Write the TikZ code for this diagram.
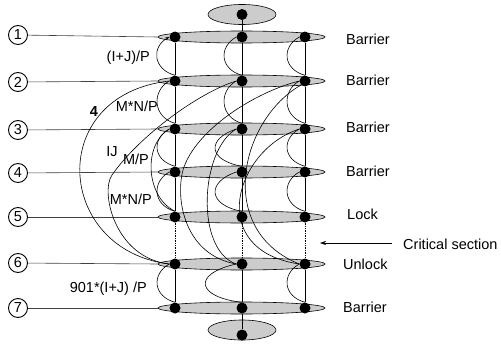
\documentclass[tikz,border=0pt]{standalone}
\usepackage{fontspec}
\setmainfont{Liberation Sans}
\usetikzlibrary{shapes.geometric,arrows.meta}
\begin{document}
\begin{tikzpicture}[x=1pt,y=-1pt,
  lbl/.style={font=\fontsize{14.5}{16}\selectfont, inner sep=0pt},
  num/.style={circle,draw,line width=0.9pt,minimum size=19pt,inner sep=0pt,font=\fontsize{14.5}{16}\selectfont},
  band/.style={ellipse,draw,line width=0.6pt,fill=gray!40,minimum width=167pt,minimum height=12pt,inner sep=0pt},
  capell/.style={ellipse,draw,line width=0.6pt,fill=gray!40,minimum width=68pt,minimum height=20pt,inner sep=0pt},
  dot/.style={circle,fill=black,minimum size=11pt,inner sep=0pt},
  lead/.style={line width=0.6pt, black!75},
  vline/.style={line width=0.7pt},
  crv/.style={line width=0.6pt},
]
\useasboundingbox (0,0) rectangle (501,348);

% bands and dots
\node[capell] (top) at (242,14.5) {};
\node[dot] (bt) at (242,14.5) {};
\foreach \r/\y in {1/37,2/81,3/129,4/172,5/217,6/264,7/308} {
  \node[band] (e\r) at (241.5,\y) {};
  \node[dot] (a\r) at (175,\y) {};
  \node[dot] (b\r) at (242,\y) {};
  \node[dot] (c\r) at (305,\y) {};
}
\node[capell] (bot) at (242,330) {};
\node[dot] (bb) at (242,335) {};

% numbered circles and leaders
\foreach \r/\y in {1/35,2/82,3/130,4/173,5/217,6/263,7/308} {
  \node[num] (n\r) at (18,\y) {\r};
  \draw[lead] (n\r) -- (e\r.west);
}

% vertical lines
\foreach \c in {a,b,c} {
  \draw[vline] (\c1) -- (\c2) -- (\c3) -- (\c4) -- (\c5);
  \draw[vline,densely dotted] (\c5) -- (\c6);
  \draw[vline] (\c6) -- (\c7);
}
\draw[vline] (bt) -- (b1);
\draw[vline] (b7) -- (bb);

% local arcs
\draw[crv,{Stealth[length=4pt,width=3pt]}-] (a1.west) .. controls +(-18,10) and +(-22,-6) .. (a2.north);
\foreach \p/\q in {2/3,3/4,4/5,6/7} {
  \draw[crv] (a\p.west) .. controls +(-18,10) and +(-22,-6) .. (a\q.north);
}
\foreach \p/\q in {1/2,2/3} {
  \draw[crv] (b\p.west) .. controls +(-18,10) and +(-22,-6) .. (b\q.north);
}
\foreach \p/\q in {3/4,4/5} {
  \draw[crv] (b\p.west) .. controls +(-30,10) and +(-34,-6) .. (b\q.north);
}
\draw[crv] (b6.west) .. controls +(-45,10) and +(-45,-5) .. (b7.north);
\foreach \p/\q in {1/2,2/3,3/4,4/5,6/7} {
  \draw[crv] (c\p.west) .. controls +(-18,10) and +(-22,-6) .. (c\q.north);
}
% elongated loop on the left
\draw[crv] (a3.west) .. controls +(-26,15) and +(-30,-15) .. (a5.north);

% big arcs
\draw[crv] (a2.west) .. controls (45,95) and (55,250) .. (a6.west);
\draw[crv] (b2.west) .. controls (200,92) and (140,135) .. (112,175)
                     .. controls (100,192) and (115,258) .. (a6.west);
\draw[crv] (c2.west) .. controls (255,92) and (195,130) .. (183,170)
                     .. controls (175,200) and (185,255) .. (b6.west);
\draw[crv] (b3.west) .. controls (200,150) and (195,250) .. (b6.west);
\draw[crv] (c3.west) .. controls (235,150) and (205,250) .. (c6.west);
\draw[crv] (c2.south west) .. controls (240,120) and (215,230) .. (c6.west);

% left labels
\node[lbl,anchor=east] (l1) at (150,58) {(I+J)/P};
\node[lbl,anchor=east] (l2) at (158,106) {M*N/P};
\node[lbl,font=\fontsize{14.5}{16}\selectfont\bfseries] (l3) at (94,112) {4};
\node[lbl] (l4) at (112,152) {IJ};
\node[lbl,anchor=east] (l5) at (149,159) {M/P};
\node[lbl,anchor=east] (l6) at (152,199) {M*N/P};
\node[lbl,anchor=east] (l7) at (147,289) {901*(I+J) /P};

% right labels
\node[lbl,anchor=west] (r1) at (346,39) {Barrier};
\node[lbl,anchor=west] (r2) at (346,80) {Barrier};
\node[lbl,anchor=west] (r3) at (346,127) {Barrier};
\node[lbl,anchor=west] (r4) at (346,171) {Barrier};
\node[lbl,anchor=west] (r5) at (347,214) {Lock};
\node[lbl,anchor=west] (r6) at (343,264) {Unlock};
\node[lbl,anchor=west] (r7) at (343,307) {Barrier};

% critical section
\node[lbl,anchor=west] (cs) at (403,244) {Critical section};
\coordinate (csstart) at (392,243);
\coordinate (csend) at (320,243);
\draw[line width=0.6pt,-{Stealth[length=6pt,width=4pt]}] (csstart) -- (csend);
\end{tikzpicture}
\end{document}
